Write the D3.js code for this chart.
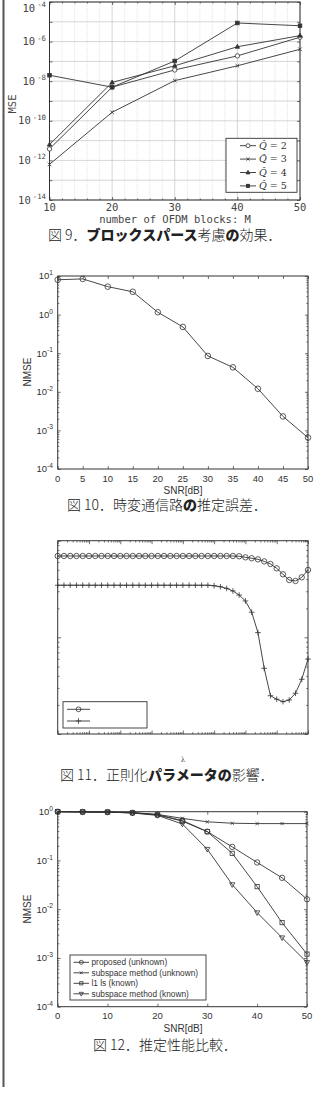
<!DOCTYPE html>
<html><head><meta charset="utf-8">
<script src="https://cdn.jsdelivr.net/npm/d3@7"></script>
<style>body{margin:0;background:#fff}svg{display:block}</style>
</head><body>
<svg id="c" width="315" height="1117"></svg>
<script>
// ---------- Fig 9 data ----------
const fig9M = [10, 20, 30, 40, 50];
const fig9Q2 = [3.8e-12, 5.0e-9, 3.7e-8, 1.9e-7, 1.66e-6];
const fig9Q3 = [6.3e-13, 2.7e-10, 1.07e-8, 6.0e-8, 4.1e-7];
const fig9Q4 = [6.3e-12, 8.7e-9, 6.0e-8, 5.5e-7, 2.0e-6];
const fig9Q5 = [2.0e-8, 5.0e-9, 1.05e-7, 8.7e-6, 6.3e-6];
const fig9Legend = ["2", "3", "4", "5"];
const fig9YExp = [-14, -12, -10, -8, -6, -4];

// ---------- Fig 10 data ----------
const fig10SNR = [0, 5, 10, 15, 20, 25, 30, 35, 40, 45, 50];
const fig10NMSE = [8.0, 8.4, 5.3, 3.9, 1.15, 0.48, 0.085, 0.043, 0.012, 0.0023, 0.00065];
const fig10XTicks = [0, 5, 10, 15, 20, 25, 30, 35, 40, 45, 50];
const fig10YExp = [-4, -3, -2, -1, 0, 1];

// ---------- Fig 11 data ----------
const fig11LambdaExp = [-4, -3.8, -3.6, -3.4, -3.2, -3, -2.8, -2.6, -2.4, -2.2, -2, -1.8, -1.6, -1.4, -1.2, -1,
  -0.8, -0.6, -0.4, -0.2, 0, 0.2, 0.4, 0.6, 0.8, 1, 1.2, 1.4, 1.6, 1.8, 2, 2.2, 2.4, 2.6, 2.8, 3, 3.2, 3.4, 3.6, 3.8, 4];
const fig11Circle = [0.695, 0.695, 0.695, 0.695, 0.695, 0.695, 0.695, 0.695, 0.695, 0.695, 0.695, 0.695, 0.695, 0.695,
  0.695, 0.695, 0.695, 0.695, 0.695, 0.695, 0.695, 0.695, 0.695, 0.695, 0.695, 0.695, 0.695, 0.695, 0.695, 0.690,
  0.673, 0.658, 0.641, 0.611, 0.574, 0.518, 0.449, 0.392, 0.383, 0.418, 0.498];
const fig11Plus = [0.346, 0.346, 0.346, 0.346, 0.346, 0.346, 0.346, 0.346, 0.346, 0.346, 0.346, 0.346, 0.346, 0.346,
  0.346, 0.346, 0.346, 0.346, 0.346, 0.346, 0.346, 0.346, 0.346, 0.346, 0.346, 0.342, 0.334, 0.321, 0.302, 0.274,
  0.238, 0.182, 0.112, 0.0478, 0.0249, 0.0229, 0.0216, 0.0225, 0.0264, 0.0368, 0.0597];

// ---------- Fig 12 data ----------
const fig12SNR = [0, 5, 10, 15, 20, 25, 30, 35, 40, 45, 50];
const fig12Proposed = [1.0, 0.99, 0.98, 0.95, 0.87, 0.66, 0.39, 0.19, 0.091, 0.044, 0.016];
const fig12SubUnknown = [1.0, 0.99, 0.98, 0.96, 0.88, 0.73, 0.62, 0.58, 0.57, 0.57, 0.57];
const fig12L1 = [1.0, 0.99, 0.98, 0.95, 0.86, 0.64, 0.39, 0.14, 0.029, 0.0053, 0.0012];
const fig12SubKnown = [1.0, 0.99, 0.98, 0.94, 0.84, 0.56, 0.17, 0.032, 0.0085, 0.0026, 0.00081];
const fig12Names = ["proposed (unknown)", "subspace method (unknown)", "l1 ls (known)", "subspace method (known)"];
const fig12XTicks = [0, 10, 20, 30, 40, 50];
const fig12YExp = [-4, -3, -2, -1, 0];

const INK = "#333";
const JP = "'Noto Sans CJK JP', sans-serif";
const SANS = "'Liberation Sans', Arial, sans-serif";
const MONO = "'DejaVu Sans Mono', monospace";
const svg = d3.select("#c");

// left page rule
svg.append("line").attr("x1", 3.5).attr("x2", 3.5).attr("y1", 0).attr("y2", 1087)
  .attr("stroke", "#555").attr("stroke-width", 2);

function marker(g, type, x, y, s, fill) {
  const st = {stroke: INK, "stroke-width": 0.8};
  let el;
  if (type === "circle") el = g.append("circle").attr("cx", x).attr("cy", y).attr("r", s).attr("fill", fill || "none");
  else if (type === "square") el = g.append("rect").attr("x", x - s).attr("y", y - s).attr("width", 2 * s).attr("height", 2 * s).attr("fill", fill || "none");
  else if (type === "x") el = g.append("path").attr("d", `M${x - s},${y - s}L${x + s},${y + s}M${x - s},${y + s}L${x + s},${y - s}`);
  else if (type === "plus") el = g.append("path").attr("d", `M${x - s},${y}L${x + s},${y}M${x},${y - s}L${x},${y + s}`);
  else if (type === "tri") el = g.append("path").attr("d", `M${x},${y - s * 1.1}L${x + s},${y + s * 0.7}L${x - s},${y + s * 0.7}Z`).attr("fill", fill || "none");
  else if (type === "tridown") el = g.append("path").attr("d", `M${x},${y + s * 1.1}L${x + s},${y - s * 0.7}L${x - s},${y - s * 0.7}Z`).attr("fill", fill || "none");
  for (const k in st) el.attr(k, st[k]);
  return el;
}

function series(g, x, y, xs, ys, type, s, fill, xf) {
  const pts = xs.map((v, i) => [x(xf ? xf(v) : v), y(ys[i])]);
  g.append("path").attr("d", d3.line()(pts)).attr("fill", "none").attr("stroke", INK).attr("stroke-width", 0.9);
  pts.forEach(p => marker(g, type, p[0], p[1], s, fill));
}

function ticks(g, x, y, xMaj, xMin, yMaj, yMin, len, minLen) {
  const [X0, X1] = x.range(); const [Y0, Y1] = y.range();
  const mk = (fn, sc, vals, size, tr) => {
    const a = g.append("g").attr("transform", tr).call(fn(sc).tickValues(vals).tickSize(size).tickFormat(""));
    a.select(".domain").remove();
    a.selectAll("line").attr("stroke", INK).attr("stroke-width", 0.7);
  };
  [[xMaj, len], [xMin, minLen]].forEach(([v, l]) => {
    if (!v) return;
    mk(d3.axisBottom, x, v, -l, `translate(0,${Y0})`);
    mk(d3.axisTop, x, v, -l, `translate(0,${Y1})`);
  });
  [[yMaj, len], [yMin, minLen]].forEach(([v, l]) => {
    if (!v) return;
    mk(d3.axisLeft, y, v, -l, `translate(${X0},0)`);
    mk(d3.axisRight, y, v, -l, `translate(${X1},0)`);
  });
  g.append("rect").attr("x", X0).attr("y", Y1).attr("width", X1 - X0).attr("height", Y0 - Y1)
    .attr("fill", "none").attr("stroke", INK).attr("stroke-width", 1);
}

function powLabel(g, x, y, exp, font, size, color, gap) {
  const t = g.append("text").attr("x", x).attr("y", y + size * 0.35).attr("text-anchor", "end")
    .attr("font-family", font).attr("font-size", size).attr("fill", color);
  t.append("tspan").text("10");
  t.append("tspan").attr("dx", gap || 0).attr("dy", -size * 0.45).attr("font-size", size * 0.7).text(exp);
}

function caption(y, x, parts) {
  const t = svg.append("text").attr("x", x).attr("y", y).attr("font-family", JP).attr("font-size", 14).attr("fill", "#222");
  parts.forEach(p => t.append("tspan").attr("font-weight", p[1] ? 900 : 300).text(p[0]));
}

// ================= Fig 9 =================
{
  const g = svg.append("g");
  const x = d3.scaleLinear().domain([10, 50]).range([49.5, 300]);
  const y = d3.scaleLog().domain([1e-14, 1e-4]).range([200, 2]);
  const minorY = y.ticks().filter(v => Math.abs(Math.log10(v) - Math.round(Math.log10(v))) > 1e-6);
  const decades = d3.range(-14, -3).map(e => Math.pow(10, e));
  const minorX = d3.range(10, 51, 2).filter(v => v % 10 !== 0);
  // minor grid
  g.selectAll(".mgy").data(minorY).join("line").attr("x1", 49.5).attr("x2", 300)
    .attr("y1", d => y(d)).attr("y2", d => y(d)).attr("stroke", "#c8c8c8").attr("stroke-width", 0.6).attr("stroke-dasharray", "1,1");
  g.selectAll(".mgx").data(minorX).join("line").attr("y1", 2).attr("y2", 200)
    .attr("x1", d => x(d)).attr("x2", d => x(d)).attr("stroke", "#d0d0d0").attr("stroke-width", 0.6).attr("stroke-dasharray", "1,1");
  // major grid
  g.selectAll(".gy").data(decades).join("line").attr("x1", 49.5).attr("x2", 300)
    .attr("y1", d => y(d)).attr("y2", d => y(d)).attr("stroke", "#bbb").attr("stroke-width", 0.6);
  g.selectAll(".gx").data(fig9M).join("line").attr("y1", 2).attr("y2", 200)
    .attr("x1", d => x(d)).attr("x2", d => x(d)).attr("stroke", "#bbb").attr("stroke-width", 0.6);
  ticks(g, x, y, fig9M, minorX, decades, minorY, 3, 1.5);
  series(g, x, y, fig9M, fig9Q2, "circle", 2.2, "#fff");
  series(g, x, y, fig9M, fig9Q3, "x", 1.8);
  series(g, x, y, fig9M, fig9Q4, "tri", 2.2, INK);
  series(g, x, y, fig9M, fig9Q5, "square", 1.8, INK);
  fig9YExp.forEach(e => powLabel(g, 46, Math.max(8.5, y(Math.pow(10, e))), "-" + (-e), MONO, 10.5, "#444", 2));
  fig9M.forEach(v => g.append("text").attr("x", x(v)).attr("y", 211).attr("text-anchor", "middle")
    .attr("font-family", MONO).attr("font-size", 10.5).attr("fill", "#444").text(v));
  g.append("text").attr("x", 175).attr("y", 223).attr("text-anchor", "middle").attr("font-family", MONO)
    .attr("font-size", 10.5).attr("fill", "#444").text("number of OFDM blocks: M");
  g.append("text").attr("transform", "translate(16,104) rotate(-90)").attr("text-anchor", "middle")
    .attr("font-family", MONO).attr("font-size", 10.5).attr("fill", "#444").text("MSE");
  // legend
  const lg = g.append("g");
  lg.append("rect").attr("x", 226).attr("y", 138.3).attr("width", 71).attr("height", 54)
    .attr("fill", "#fff").attr("stroke", INK).attr("stroke-width", 0.9);
  const types = [["circle", "#fff", 2.0], ["x", null, 1.6], ["tri", INK, 2.0], ["square", INK, 1.6]];
  fig9Legend.forEach((q, i) => {
    const yy = 145.7 + i * 13.4;
    lg.append("line").attr("x1", 240).attr("x2", 256).attr("y1", yy).attr("y2", yy).attr("stroke", INK).attr("stroke-width", 0.9);
    marker(lg, types[i][0], 248, yy, types[i][2], types[i][1]);
    const t = lg.append("text").attr("x", 259).attr("y", yy + 3.3).attr("font-family", "'DejaVu Serif', serif")
      .attr("font-size", 9.5).attr("fill", "#333");
    t.append("tspan").attr("font-style", "italic").text("Q\u0302");
    t.append("tspan").text(" = " + q);
  });
  caption(240, 48, [["図 9．", 0], ["ブロックスパース", 1], ["考慮", 0], ["の", 1], ["効果．", 0]]);
}

// ================= Fig 10 =================
{
  const g = svg.append("g");
  const x = d3.scaleLinear().domain([0, 50]).range([57.7, 308]);
  const y = d3.scaleLog().domain([1e-4, 1e1]).range([469, 276]);
  const dec = fig10YExp.map(e => Math.pow(10, e));
  const minorY = y.ticks().filter(v => !dec.some(d => Math.abs(d - v) / d < 1e-6));
  ticks(g, x, y, fig10XTicks, null, dec, minorY, 3, 1.6);
  series(g, x, y, fig10SNR, fig10NMSE, "circle", 2.8, "none");
  fig10YExp.forEach(e => powLabel(g, 53, y(Math.pow(10, e)), e < 0 ? "-" + (-e) : String(e), SANS, 9.5, "#333", 0));
  fig10XTicks.forEach(v => g.append("text").attr("x", x(v)).attr("y", 481.5).attr("text-anchor", "middle")
    .attr("font-family", SANS).attr("font-size", 9.5).attr("fill", "#333").text(v));
  g.append("text").attr("x", 183).attr("y", 493.5).attr("text-anchor", "middle").attr("font-family", SANS)
    .attr("font-size", 10).attr("fill", "#333").text("SNR[dB]");
  g.append("text").attr("transform", "translate(31,372) rotate(-90)").attr("text-anchor", "middle")
    .attr("font-family", SANS).attr("font-size", 10).attr("fill", "#333").text("NMSE");
  caption(510, 67, [["図 10．時変通信路", 0], ["の", 1], ["推定誤差．", 0]]);
}

// ================= Fig 11 =================
{
  const g = svg.append("g");
  const x = d3.scaleLog().domain([1e-4, 1e4]).range([57.7, 308]);
  const y = d3.scaleLog().domain([1e-2, 1e0]).range([734, 540.7]);
  const xDec = d3.range(-4, 5).map(e => Math.pow(10, e));
  const xMinor = x.ticks().filter(v => !xDec.some(d => Math.abs(d - v) / d < 1e-6));
  const yDec = [1e-2, 1e-1, 1];
  const yMinor = y.ticks().filter(v => !yDec.some(d => Math.abs(d - v) / d < 1e-6));
  ticks(g, x, y, xDec, xMinor, yDec, yMinor, 3.5, 1.8);
  const xf = e => Math.pow(10, e);
  series(g, x, y, fig11LambdaExp, fig11Circle, "circle", 2.7, "none", xf);
  series(g, x, y, fig11LambdaExp, fig11Plus, "plus", 2.8, null, xf);
  const lg = g.append("g");
  lg.append("rect").attr("x", 63).attr("y", 701.7).attr("width", 84).attr("height", 26.3)
    .attr("fill", "#fff").attr("stroke", INK).attr("stroke-width", 0.9);
  [["circle", 709.3], ["plus", 721]].forEach(([t, yy]) => {
    lg.append("line").attr("x1", 67).attr("x2", 90).attr("y1", yy).attr("y2", yy).attr("stroke", INK).attr("stroke-width", 0.9);
    marker(lg, t, 78.5, yy, t === "circle" ? 2.4 : 2.8, "none");
  });
  g.append("text").attr("x", 183).attr("y", 762).attr("text-anchor", "middle").attr("font-family", "'DejaVu Serif', serif")
    .attr("font-size", 7).attr("fill", "#444").text("λ");
  caption(780, 60, [["図 11．正則化", 0], ["パラメータの", 1], ["影響．", 0]]);
}

// ================= Fig 12 =================
{
  const g = svg.append("g");
  const x = d3.scaleLinear().domain([0, 50]).range([57.7, 307]);
  const y = d3.scaleLog().domain([1e-4, 1e0]).range([1006.7, 811.7]);
  const dec = fig12YExp.map(e => Math.pow(10, e));
  const minorY = y.ticks().filter(v => !dec.some(d => Math.abs(d - v) / d < 1e-6));
  ticks(g, x, y, fig12XTicks, null, dec, minorY, 3, 1.6);
  series(g, x, y, fig12SNR, fig12SubUnknown, "x", 1.6);
  series(g, x, y, fig12SNR, fig12Proposed, "circle", 2.7, "none");
  series(g, x, y, fig12SNR, fig12L1, "square", 2.1, "none");
  series(g, x, y, fig12SNR, fig12SubKnown, "tridown", 2.6, "none");
  fig12YExp.forEach(e => powLabel(g, 53, y(Math.pow(10, e)), e < 0 ? "-" + (-e) : String(e), SANS, 9.5, "#333", 0));
  fig12XTicks.forEach(v => g.append("text").attr("x", x(v)).attr("y", 1019).attr("text-anchor", "middle")
    .attr("font-family", SANS).attr("font-size", 9.5).attr("fill", "#333").text(v));
  g.append("text").attr("x", 183).attr("y", 1032).attr("text-anchor", "middle").attr("font-family", SANS)
    .attr("font-size", 10).attr("fill", "#333").text("SNR[dB]");
  g.append("text").attr("transform", "translate(31,909) rotate(-90)").attr("text-anchor", "middle")
    .attr("font-family", SANS).attr("font-size", 10).attr("fill", "#333").text("NMSE");
  const lg = g.append("g");
  lg.append("rect").attr("x", 70).attr("y", 955).attr("width", 136).attr("height", 45)
    .attr("fill", "#fff").attr("stroke", INK).attr("stroke-width", 0.9);
  const lt = [["circle", 2.0], ["x", 1.4], ["square", 1.6], ["tridown", 2.1]];
  fig12Names.forEach((n, i) => {
    const yy = 962.3 + i * 10.5;
    lg.append("line").attr("x1", 73.5).attr("x2", 89).attr("y1", yy).attr("y2", yy).attr("stroke", INK).attr("stroke-width", 0.9);
    marker(lg, lt[i][0], 81.3, yy, lt[i][1], "none");
    lg.append("text").attr("x", 91.5).attr("y", yy + 3).attr("font-family", SANS).attr("font-size", 8.3)
      .attr("fill", "#333").text(n);
  });
  caption(1050, 93, [["図 12．推定性能比較．", 0]]);
}
</script>
</body></html>
